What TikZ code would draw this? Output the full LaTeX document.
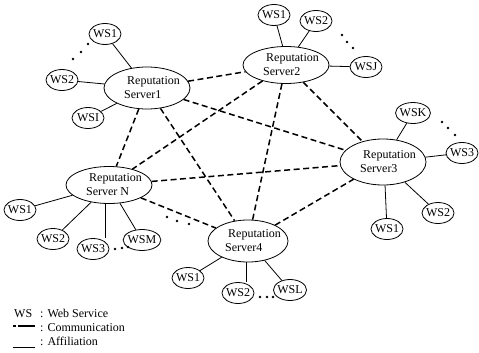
\documentclass[tikz,border=0pt]{standalone}
\usepackage{fontspec}
\setmainfont{Liberation Serif}
\newfontfamily\diagfont{Liberation Serif}
\usetikzlibrary{shapes.geometric}

\begin{document}
\begin{tikzpicture}[x=1pt, y=-1pt,
  font=\diagfont\fontsize{12}{14}\selectfont,
  server/.style={ellipse, draw, line width=0.8pt, minimum width=86pt, minimum height=40pt, inner sep=0pt},
  servertext/.style={align=left, inner sep=0pt, xshift=5pt},
  ws/.style={ellipse, draw, line width=0.8pt, minimum width=32pt, minimum height=21pt, inner xsep=-1pt, inner ysep=0pt},
  comm/.style={line width=1.5pt, dash pattern=on 6pt off 3.5pt},
  aff/.style={line width=0.8pt},
  legend/.style={anchor=base west, inner sep=0pt}]
\useasboundingbox (0,0) rectangle (479,353);
\node[server, minimum height=42pt] (s1) at (147,88) {};
\node[server, minimum height=37pt] (s2) at (286,65) {};
\node[server, minimum height=46pt] (s3) at (383,162) {};
\node[server, minimum height=37pt] (sn) at (109,185) {};
\node[server, minimum width=80pt, minimum height=42pt] (s4) at (248,241) {};
\node[servertext] (s1t) at (s1.center) {\hspace*{3pt}Reputation\\Server1};
\node[servertext] (s2t) at (s2.center) {\hspace*{3pt}Reputation\\Server2};
\node[servertext] (s3t) at (s3.center) {\hspace*{3pt}Reputation\\Server3};
\node[servertext] (snt) at (sn.center) {\hspace*{3pt}Reputation\\Server N};
\node[servertext] (s4t) at (s4.center) {\hspace*{3pt}Reputation\\Server4};
\draw[comm] (s1) -- (s2);
\draw[comm] (s1) -- (s3);
\draw[comm] (s1) -- (sn);
\draw[comm] (s1) -- (s4);
\draw[comm] (s2) -- (sn);
\draw[comm] (s2) -- (s4);
\draw[comm] (s2) -- (s3);
\draw[comm] (sn) -- (s3);
\draw[comm] (sn) -- (s4);
\draw[comm] (s4) -- (s3);
\node[ws] (a1) at (105,34) {WS1};
\node[ws] (a2) at (62,80) {WS2};
\node[ws] (ai) at (88,118) {WSI};
\draw[aff] (a1) -- (s1);
\draw[aff] (a2) -- (s1);
\draw[aff] (ai) -- (s1);
\node[ws] (b1) at (274,15) {WS1};
\node[ws] (b2) at (316,21) {WS2};
\node[ws] (bj) at (366,67) {WSJ};
\draw[aff] (b1) -- (s2.100);
\draw[aff] (b2) -- (s2);
\draw[aff] (bj) -- (s2);
\node[ws] (ck) at (413,113) {WSK};
\node[ws] (c3) at (462,153) {WS3};
\node[ws] (c2) at (438,213) {WS2};
\node[ws] (c1) at (387,229) {WS1};
\draw[aff] (ck) -- (s3);
\draw[aff] (c3) -- (s3);
\draw[aff] (c2) -- (s3);
\draw[aff] (c1) -- (s3.-85);
\node[ws] (n1) at (20,210) {WS1};
\node[ws] (n2) at (53,239) {WS2};
\node[ws] (n3) at (93,249) {WS3};
\node[ws] (nm) at (142,240) {WSM};
\draw[aff] (n1) -- (sn);
\draw[aff] (n2) -- (sn);
\draw[aff] (n3.north -| sn.-100) -- (sn.-100);
\draw[aff] (nm) -- (sn);
\node[ws] (d1) at (188,278) {WS1};
\node[ws] (d2) at (238,293) {WS2};
\node[ws] (dl) at (290,290) {WSL};
\draw[aff] (d1) -- (s4);
\draw[aff] (d2.north -| s4.-95) -- (s4.-95);
\draw[aff] (dl) -- (s4);
\fill (73,59) circle (1.3);
\fill (81,52) circle (1.3);
\fill (88,44) circle (1.3);
\fill (342,35) circle (1.3);
\fill (347,42) circle (1.3);
\fill (353,48) circle (1.3);
\fill (442,122) circle (1.3);
\fill (448,128) circle (1.3);
\fill (455,135) circle (1.3);
\fill (115,249) circle (1.3);
\fill (122,248) circle (1.3);
\fill (128,247) circle (1.3);
\fill (167,217) circle (1.3);
\fill (177,221) circle (1.3);
\fill (189,224) circle (1.3);
\fill (260,297) circle (1.3);
\fill (267,297) circle (1.3);
\fill (273,297) circle (1.3);
\node[legend] (lws) at (14,317) {WS};
\node[legend] (lwsd) at (40,317) {: Web Service};
\coordinate (lc0) at (13,326);
\coordinate (lc1) at (35,326);
\draw[line width=1.6pt, dash pattern=on 3pt off 2pt on 20pt] (lc0) -- (lc1);
\node[legend] (lcd) at (40,331) {: Communication};
\coordinate (lf0) at (13,347);
\coordinate (lf1) at (35,347);
\draw[aff] (lf0) -- (lf1);
\node[legend] (lfd) at (40,345) {: Affiliation};
\end{tikzpicture}
\end{document}
